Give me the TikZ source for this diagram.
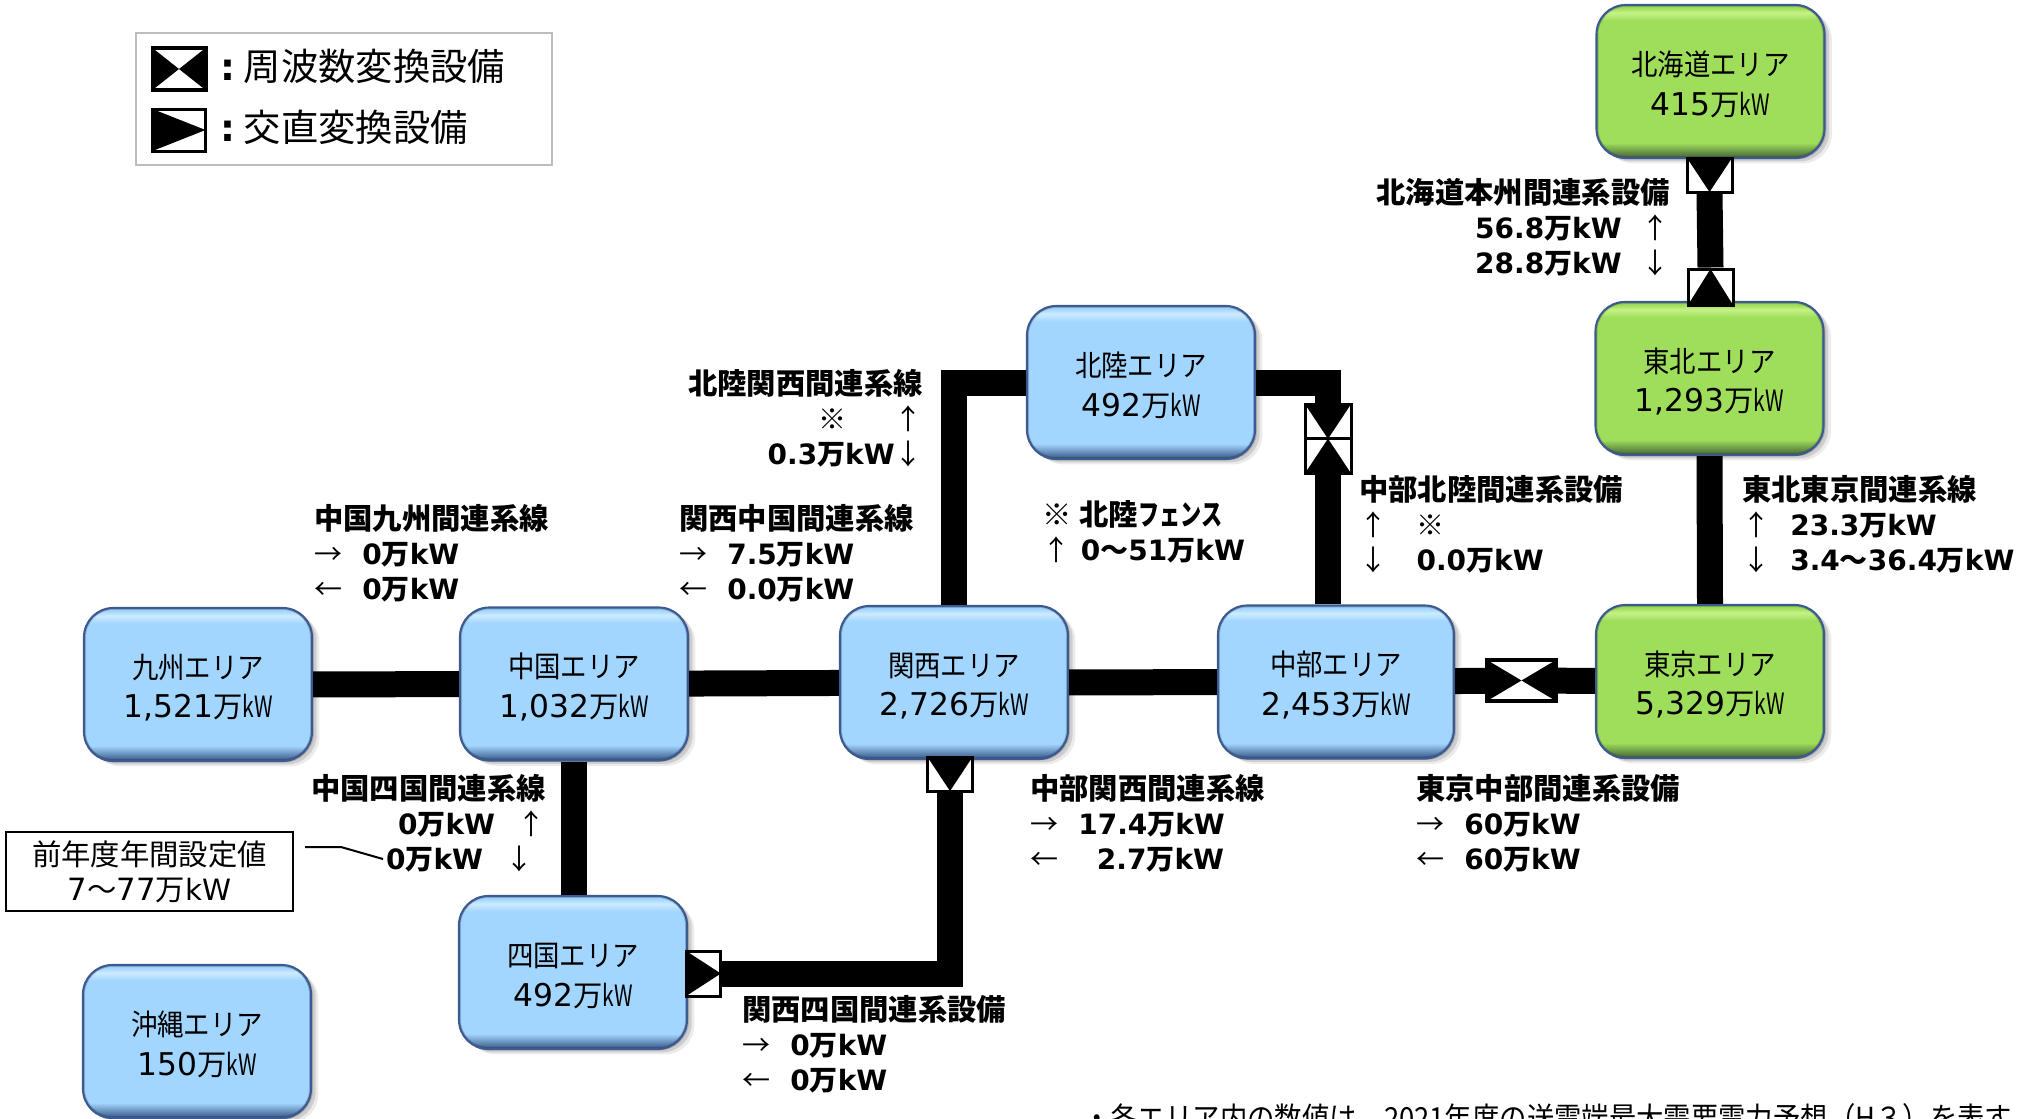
\documentclass[tikz,border=0pt]{standalone}
\usepackage{fontspec}
\usepackage{tikz}
\usetikzlibrary{calc}
\usetikzlibrary{shadows}
\setmainfont{DejaVu Sans}
\newfontfamily\jpfont[FakeStretch=0.9]{Noto Sans CJK JP}
\newfontfamily\jpwide{Noto Sans CJK JP}
\newfontfamily\jpnarrow[FakeStretch=0.72]{Noto Sans CJK JP}
\definecolor{area-blue}{HTML}{A3D6FF}
\definecolor{area-blue-top}{HTML}{CDEBFF}
\definecolor{area-blue-low}{HTML}{3F6090}
\definecolor{area-green}{HTML}{9FDE5A}
\definecolor{area-green-top}{HTML}{C6F288}
\definecolor{area-green-low}{HTML}{4C6E3C}
\definecolor{area-edge}{HTML}{3D5A90}
\definecolor{legend-edge}{HTML}{BDBDBD}
\pgfdeclareverticalshading{areablueshade}{100bp}{color(0bp)=(area-blue-low); color(25.5bp)=(area-blue-low); color(30bp)=(area-blue); color(70bp)=(area-blue); color(72.5bp)=(area-blue-top); color(74bp)=(area-blue); color(100bp)=(area-blue)}
\pgfdeclareverticalshading{areagreenshade}{100bp}{color(0bp)=(area-green-low); color(25.5bp)=(area-green-low); color(30bp)=(area-green); color(70bp)=(area-green); color(72.5bp)=(area-green-top); color(74bp)=(area-green); color(100bp)=(area-green)}
\newcommand{\mankw}[1]{#1{\jpwide 万}kW}
\newcommand{\areatext}[2]{\rule{0pt}{23pt}{\jpfont #1}\\{\fontsize{23.5}{29.5}\selectfont #2}{\jpwide 万}{\jpnarrow kW}}
\newcommand{\flowhead}[1]{{\fontsize{22}{26.2}\selectfont\jpwide #1}}
\newcommand{\dirmark}[1]{\makebox[36pt][l]{\mdseries\jpwide #1}}
\newcommand{\vmark}[1]{{\mdseries\jpwide #1}}
\tikzset{
  areabox/.style={rounded corners=22pt, draw=area-edge, line width=1.6pt, shading=#1, minimum width=171pt, minimum height=114.75pt, align=center, inner sep=0pt,
    font=\fontsize{22}{29.5}\selectfont,
    general shadow={fill=black, opacity=0.14, shadow xshift=1.5pt, shadow yshift=-1pt},
    general shadow={fill=black, opacity=0.12, shadow xshift=3.5pt, shadow yshift=-2.5pt},
    general shadow={fill=black, opacity=0.08, shadow xshift=5.5pt, shadow yshift=-4pt},
    path picture={\draw[black, opacity=0.16, line width=3pt, rounded corners=22pt] (path picture bounding box.south west) rectangle (path picture bounding box.north east);}},
  link/.style={line width=19.5pt, line join=miter, line cap=butt},
  convdc/.style n args={3}{draw=black, line width=2.25pt, fill=white, inner sep=0pt,
    path picture={\fill[black] (path picture bounding box.#1) -- (path picture bounding box.#2) -- (path picture bounding box.#3) -- cycle;}},
  convfreq/.style={draw=black, line width=3pt, fill=white, inner sep=0pt,
    path picture={\fill[black] (path picture bounding box.north west) -- (path picture bounding box.center) -- (path picture bounding box.south west) -- cycle;
      \fill[black] (path picture bounding box.north east) -- (path picture bounding box.center) -- (path picture bounding box.south east) -- cycle;}},
  flowlabel/.style={anchor=north west, align=left, inner sep=0pt, font=\bfseries\fontsize{21}{26.2}\selectfont},
  flowright/.style={anchor=north east, align=right, inner sep=0pt, font=\bfseries\fontsize{21}{26.2}\selectfont}
}
\begin{document}
\begin{tikzpicture}[x=0.75pt, y=-0.75pt]
    % frame
    \useasboundingbox (0,0) rectangle (2028,1118);
    \clip (0,0) rectangle (2028,1118);

    % areas
    \node[areabox=areagreenshade] (hokkaido) at (1710.5,81.5) {\areatext{北海道エリア}{415}};
    \node[areabox=areagreenshade] (tohoku) at (1709.5,378.5) {\areatext{東北エリア}{1,293}};
    \node[areabox=areagreenshade] (tokyo) at (1710,681.5) {\areatext{東京エリア}{5,329}};
    \node[areabox=areablueshade, minimum width=177pt] (chubu) at (1336,682) {\areatext{中部エリア}{2,453}};
    \node[areabox=areablueshade] (hokuriku) at (1141,382.5) {\areatext{北陸エリア}{492}};
    \node[areabox=areablueshade] (kansai) at (954,682.5) {\areatext{関西エリア}{2,726}};
    \node[areabox=areablueshade] (chugoku) at (574,684) {\areatext{中国エリア}{1,032}};
    \node[areabox=areablueshade] (kyushu) at (198,684.5) {\areatext{九州エリア}{1,521}};
    \node[areabox=areablueshade] (shikoku) at (573,972.5) {\areatext{四国エリア}{492}};
    \node[areabox=areablueshade] (okinawa) at (197,1041.5) {\areatext{沖縄エリア}{150}};

    % converters
    \node[convdc={north west}{north east}{south}, minimum width=33.75pt, minimum height=25.5pt] (hokkaidodc) at (1709.5,175) {};
    \node[convdc={south west}{south east}{north}, minimum width=33.75pt, minimum height=27pt] (tohokudc) at (1710.5,287) {};
    \node[convdc={north west}{north east}{south}, minimum width=34.5pt, minimum height=26pt] (hokurikudc) at (1328,421.5) {};
    \node[convdc={south west}{south east}{north}, minimum width=34.5pt, minimum height=26pt] (chubudc) at (1328,456) {};
    \node[convdc={north west}{north east}{south}, minimum width=33.75pt, minimum height=25.5pt] (kansaidc) at (950,774) {};
    \node[convdc={north west}{south west}{east}, minimum width=26pt, minimum height=33.75pt] (shikokudc) at (703.5,973.5) {};
    \node[convfreq, minimum width=51.75pt, minimum height=30.75pt] (tokyofreq) at (1521.5,680.5) {};

    % interconnections
    \draw[link] (kyushu) -- (chugoku);
    \draw[link] (chugoku) -- (kansai);
    \draw[link] (kansai) -- (chubu);
    \draw[link] (chubu) -- (tokyofreq);
    \draw[link] (tokyofreq) -- (tokyo);
    \draw[link] (tohoku.south) -- (tokyo.north);
    \draw[link] (hokkaidodc.south) -- (tohokudc.north);
    \draw[link] (kansai.north) |- (hokuriku.west);
    \draw[link] (hokuriku.east) -| (hokurikudc.north);
    \draw[link] (chubudc.south) -- (chubudc.south |- chubu.north);
    \draw[link] (chugoku.south) -- (chugoku.south |- shikoku.north);
    \draw[link] (kansaidc.south) |- (shikokudc.east);

    % flow labels
    \node[flowright] (hokkaidoflow) at (1670,178) {\flowhead{北海道本州間連系設備}\\\mankw{56.8}\hspace{15pt}\vmark{↑}\\\mankw{28.8}\hspace{15pt}\vmark{↓}};
    \node[flowlabel] (tohokuflow) at (1742,475) {\flowhead{東北東京間連系線}\\\dirmark{↑}\mankw{23.3}\\\dirmark{↓}3.4{\jpwide 〜}\mankw{36.4}};
    \node[flowlabel] (chubuhokuflow) at (1359,475) {\flowhead{中部北陸間連系設備}\\\dirmark{↑}\hspace{7pt}{\jpwide ※}\\\dirmark{↓}\hspace{7pt}\mankw{0.0}};
    \node[flowlabel] (fence) at (1042,500) {{\flowhead{※}}\hspace{6pt}\flowhead{北陸}{\fontsize{22}{26.2}\selectfont\jpnarrow フェンス}\\\makebox[29pt][l]{\vmark{↑}}0{\jpwide 〜}\mankw{51}};
    \node[flowright] (hokurikuflow) at (923,369) {\flowhead{北陸関西間連系線}\\{\jpwide ※}\hspace{36pt}\vmark{↑}\\\mankw{0.3}\vmark{↓}};
    \node[flowlabel] (kansaiflow) at (679,504) {\flowhead{関西中国間連系線}\\\dirmark{→}\mankw{7.5}\\\dirmark{←}\mankw{0.0}};
    \node[flowlabel] (kyushuflow) at (314,504) {\flowhead{中国九州間連系線}\\\dirmark{→}\mankw{0}\\\dirmark{←}\mankw{0}};
    \node[flowright] (shikokuflow) at (546,774) {\flowhead{中国四国間連系線}\\\mankw{0}\hspace{17pt}\vmark{↑}\hspace*{9pt}\\\mankw{0}\hspace{17pt}\vmark{↓}\hspace*{9pt}};
    \node[flowlabel] (chubuflow) at (1030,774) {\flowhead{中部関西間連系線}\\\dirmark{→}\mankw{17.4}\\\dirmark{←}\hspace{14pt}\mankw{2.7}};
    \node[flowlabel] (tokyoflow) at (1416,774) {\flowhead{東京中部間連系設備}\\\dirmark{→}\mankw{60}\\\dirmark{←}\mankw{60}};
    \node[flowlabel] (shikokudcflow) at (742,995) {\flowhead{関西四国間連系設備}\\\dirmark{→}\mankw{0}\\\dirmark{←}\mankw{0}};

    % annual setting
    \node[draw=black, line width=1.5pt, minimum width=215pt, minimum height=59pt, inner sep=0pt, align=center, font=\fontsize{22}{26.5}\selectfont] (setting) at (149.5,871.5) {{\jpwide 前年度年間設定値}\\{\fontsize{23}{26.5}\selectfont 7}{\jpwide 〜}{\fontsize{23}{26.5}\selectfont 77}{\jpwide 万}kW};
    \coordinate (settingfrom) at (305,847);
    \coordinate (settingbend) at (341,847);
    \coordinate (settingto) at (383,859);
    \draw[line width=1.5pt] (settingfrom) -- (settingbend) -- (settingto);

    % legend
    \node[draw=legend-edge, line width=1.2pt, minimum width=312pt, minimum height=99pt] (legend) at (344,99) {};
    \node[convfreq, minimum width=39.75pt, minimum height=31.5pt] (legendfreq) at (179,69) {};
    \node[convdc={north west}{south west}{east}, minimum width=39.75pt, minimum height=31.5pt] (legenddc) at (179,130) {};
    \node[anchor=west, inner sep=0pt, font=\fontsize{28}{32}\selectfont] (legendfreqtext) at (220,66) {\textbf{:}\hspace{6.5pt}{\jpwide 周波数変換設備}};
    \node[anchor=west, inner sep=0pt, font=\fontsize{28}{32}\selectfont] (legenddctext) at (220,127) {\textbf{:}\hspace{6.5pt}{\jpwide 交直変換設備}};

    % note
    \node[anchor=base west, inner sep=0pt, font=\fontsize{22.8}{26}\selectfont] (areanote) at (1083,1129) {{\jpfont ・各エリア内の数値は、2021年度の送電端最大需要電力予想（H３）を表す}};

\end{tikzpicture}
\end{document}
